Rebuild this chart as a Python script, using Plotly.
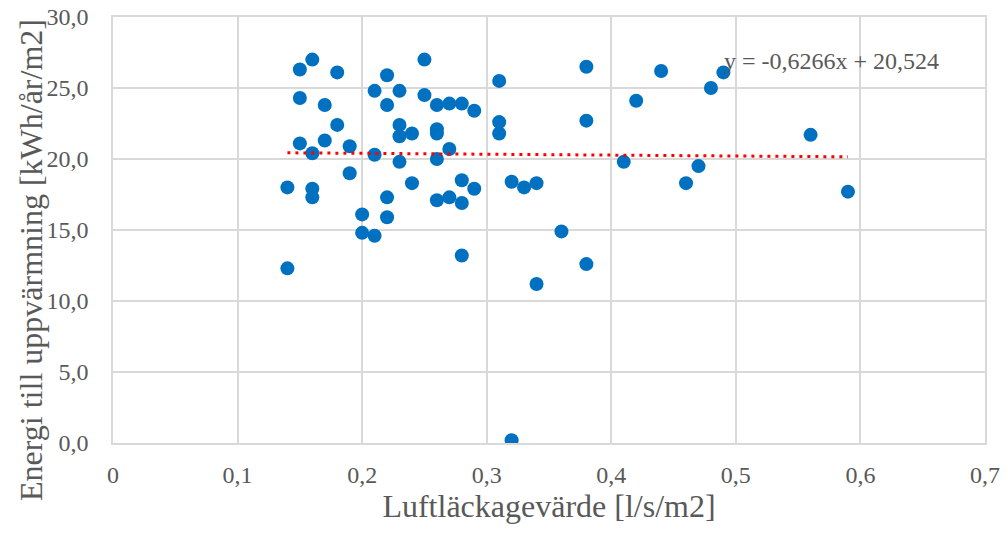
import numpy as np
import plotly.graph_objects as go

# Data
x_vals = [0.14, 0.14,
          0.15, 0.15, 0.15,
          0.16, 0.16, 0.16, 0.16,
          0.17, 0.17,
          0.18, 0.18,
          0.19, 0.19,
          0.20, 0.20,
          0.21, 0.21, 0.21,
          0.22, 0.22, 0.22, 0.22,
          0.23, 0.23, 0.23, 0.23,
          0.24, 0.24,
          0.25, 0.25,
          0.26, 0.26, 0.26, 0.26, 0.26,
          0.27, 0.27, 0.27,
          0.28, 0.28, 0.28, 0.28,
          0.29, 0.29,
          0.31, 0.31, 0.31,
          0.32, 0.32,
          0.33,
          0.34, 0.34,
          0.36,
          0.38, 0.38, 0.38,
          0.41, 0.42, 0.44, 0.46, 0.47, 0.48, 0.49, 0.56, 0.59]
y_vals = [18.0, 12.3,
          26.3, 24.3, 21.1,
          27.0, 20.4, 17.9, 17.3,
          23.8, 21.3,
          26.1, 22.4,
          20.9, 19.0,
          16.1, 14.8,
          24.8, 20.3, 14.6,
          25.9, 23.8, 17.3, 15.9,
          24.8, 22.4, 21.6, 19.8,
          21.8, 18.3,
          27.0, 24.5,
          23.8, 22.1, 21.8, 20.0, 17.1,
          23.9, 20.7, 17.3,
          23.9, 18.5, 16.9, 13.2,
          23.4, 17.9,
          25.5, 22.6, 21.8,
          18.4, 0.2,
          18.0,
          18.3, 11.2,
          14.9,
          26.5, 22.7, 12.6,
          19.8, 24.1, 26.2, 18.3, 19.5, 25.0, 26.1, 21.7, 17.7]

trend_slope = -0.6266
trend_intercept = 20.524
equation_text = "y = -0,6266x + 20,524"

x_title = "Luftläckagevärde [l/s/m2]"
y_title = "Energi till uppvärmning [kWh/år/m2]"

font_family = "Liberation Serif"
text_color = "#595959"
grid_color = "#d9d9d9"

trend_x = np.array([min(x_vals), max(x_vals)])
trend_y = trend_slope * trend_x + trend_intercept

fig = go.Figure()
fig.add_trace(go.Scatter(
    x=x_vals, y=y_vals, mode="markers",
    marker=dict(size=14, color="#0070C0"),
    showlegend=False, hoverinfo="x+y"))
fig.add_trace(go.Scatter(
    x=trend_x, y=trend_y, mode="lines",
    line=dict(color="#FF0000", width=3, dash="3px,5px"),
    showlegend=False, hoverinfo="skip"))

fig.add_annotation(
    x=0.4888, y=26.9, xref="x", yref="y",
    text=equation_text, showarrow=False,
    xanchor="left", yanchor="middle",
    font=dict(family=font_family, size=24, color=text_color))

# y-axis title (placed slightly below plot centre, as in the original)
fig.add_annotation(
    x=31, y=260, xref="paper", yref="paper",
    text=y_title, showarrow=False, textangle=-90,
    xanchor="center", yanchor="middle",
    font=dict(family=font_family, size=32, color=text_color))
# convert pixel positions to paper coordinates
W, H = 1008, 533
L, R, T, B = 113, 23, 17, 90
pw, ph = W - L - R, H - T - B
fig.layout.annotations[-1].x = (31 - L) / pw
fig.layout.annotations[-1].y = (H - B - 260) / ph

fig.update_layout(
    width=W, height=H,
    margin=dict(l=L, r=R, t=T, b=B),
    paper_bgcolor="white", plot_bgcolor="white",
    separators=", ",
    font=dict(family=font_family, color=text_color),
)
fig.update_xaxes(
    range=[0, 0.7], dtick=0.1, tick0=0,
    showgrid=True, gridcolor=grid_color, gridwidth=1.5,
    showline=True, linecolor=grid_color, linewidth=1.5, mirror=True,
    zeroline=False, ticks="", ticklabelstandoff=9,
    tickfont=dict(family=font_family, size=24, color=text_color),
    title=dict(text=x_title, font=dict(family=font_family, size=32, color=text_color), standoff=6),
    automargin=False)
fig.update_yaxes(
    range=[0, 30], dtick=5, tick0=0, tickformat=".1f",
    showgrid=True, gridcolor=grid_color, gridwidth=1.5,
    showline=True, linecolor=grid_color, linewidth=1.5, mirror=True,
    zeroline=False, ticks="", ticklabelstandoff=18,
    tickfont=dict(family=font_family, size=24, color=text_color),
    automargin=False)

fig.write_html("out.html", config={"displayModeBar": False},
               post_script="document.body.style.margin='0';document.body.style.overflow='hidden';")
